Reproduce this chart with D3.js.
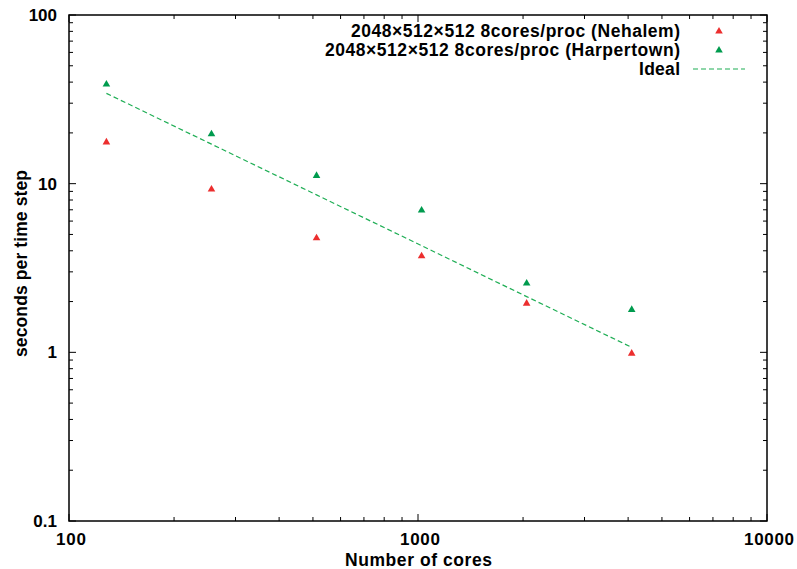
<!DOCTYPE html>
<html>
<head>
<meta charset="utf-8">
<script src="https://cdn.jsdelivr.net/npm/d3@7"></script>
<style>
  body { margin: 0; background: #fff; }
  text { font-family: "Liberation Sans", Arial, sans-serif; font-weight: bold; fill: #000; }
</style>
</head>
<body>
<svg id="chart" width="797" height="569"></svg>
<script>
// data
const cores = [128, 256, 512, 1024, 2048, 4096];
const nehalem = [17.7, 9.3, 4.78, 3.74, 1.96, 0.99];
const harpertown = [39.0, 19.8, 11.2, 6.98, 2.58, 1.80];
const ideal = [34.3, 17.15, 8.58, 4.29, 2.14, 1.07];
const xTicks = [100, 1000, 10000];
const yTicks = [0.1, 1, 10, 100];
const legendLabels = ["2048×512×512 8cores/proc (Nehalem)", "2048×512×512 8cores/proc (Harpertown)", "Ideal"];
const legendWidths = [329, 355, 41];

const red = "#ec2e2e", green = "#009b4e", lineGreen = "#1fae55";

const svg = d3.select("#chart");
const pLeft = 69, pRight = 767, pTop = 15, pBottom = 521;

const x = d3.scaleLog().domain([100, 10000]).range([pLeft, pRight]);
const y = d3.scaleLog().domain([0.1, 100]).range([pBottom, pTop]);

// minor tick values (2..9 in each decade)
function minors(lo, hi) {
    let out = [];
    for (let d = lo; d < hi * 0.99; d *= 10)
        for (let k = 2; k <= 9; k++) out.push(d * k);
    return out;
}
const xMinor = minors(100, 10000);
const yMinor = minors(0.1, 100);

const g = svg.append("g");

// ticks inward on all four sides
function tickLinesX(vals, len) {
    vals.forEach(v => {
        g.append("line").attr("x1", x(v)).attr("x2", x(v)).attr("y1", pBottom).attr("y2", pBottom - len);
        g.append("line").attr("x1", x(v)).attr("x2", x(v)).attr("y1", pTop).attr("y2", pTop + len);
    });
}
function tickLinesY(vals, len) {
    vals.forEach(v => {
        g.append("line").attr("y1", y(v)).attr("y2", y(v)).attr("x1", pLeft).attr("x2", pLeft + len);
        g.append("line").attr("y1", y(v)).attr("y2", y(v)).attr("x1", pRight).attr("x2", pRight - len);
    });
}
tickLinesX(xTicks, 7);
tickLinesX(xMinor, 4);
tickLinesY(yTicks, 7);
tickLinesY(yMinor, 4);
g.selectAll("line").attr("stroke", "#000").attr("stroke-width", 1);

svg.append("rect")
    .attr("x", pLeft).attr("y", pTop)
    .attr("width", pRight - pLeft).attr("height", pBottom - pTop)
    .attr("fill", "none").attr("stroke", "#000").attr("stroke-width", 1.5);

// tick labels (glyphs in the reference are a bit wider than Liberation)
svg.selectAll(".xl").data(xTicks).enter().append("text")
    .attr("x", d => x(d) + 2).attr("y", pBottom + 24)
    .attr("text-anchor", "middle").attr("font-size", 17)
    .attr("textLength", d => String(d).length * 10)
    .text(d => d);
svg.selectAll(".yl").data(yTicks).enter().append("text")
    .attr("x", pLeft - 12).attr("y", d => y(d) + 6)
    .attr("text-anchor", "end").attr("font-size", 17)
    .text(d => d);

// axis titles
svg.append("text").attr("x", 418.5).attr("y", 566)
    .attr("text-anchor", "middle").attr("font-size", 17.5)
    .attr("textLength", 147).text("Number of cores");
svg.append("text").attr("transform", `translate(27,${263.5}) rotate(-90)`)
    .attr("text-anchor", "middle").attr("font-size", 17.5)
    .attr("textLength", 187).text("seconds per time step");

// ideal line
const line = d3.line().x((d, i) => x(cores[i])).y(d => y(d));
svg.append("path").attr("d", line(ideal))
    .attr("fill", "none").attr("stroke", lineGreen).attr("stroke-width", 1.2)
    .attr("stroke-dasharray", "5,3");

// triangle marks
const tri = "M0,-4L3.8,2.6L-3.8,2.6Z";
function points(vals, color) {
    svg.append("g").selectAll("path").data(vals).enter().append("path")
        .attr("d", tri)
        .attr("transform", (d, i) => `translate(${x(cores[i])},${y(d)})`)
        .attr("fill", color);
}
points(nehalem, red);
points(harpertown, green);

// legend
const lg = svg.append("g");
const rowY = [31, 50, 69];
legendLabels.forEach((t, i) => {
    lg.append("text").attr("x", 680).attr("y", rowY[i] + 6)
        .attr("text-anchor", "end").attr("font-size", 17.5)
        .attr("textLength", legendWidths[i]).text(t);
});
lg.append("path").attr("d", tri).attr("transform", `translate(719,${rowY[0]})`).attr("fill", red);
lg.append("path").attr("d", tri).attr("transform", `translate(719,${rowY[1]})`).attr("fill", green);
lg.append("line").attr("x1", 693).attr("x2", 745).attr("y1", rowY[2]).attr("y2", rowY[2])
    .attr("stroke", lineGreen).attr("stroke-width", 1.2).attr("stroke-dasharray", "5,3");
</script>
</body>
</html>
